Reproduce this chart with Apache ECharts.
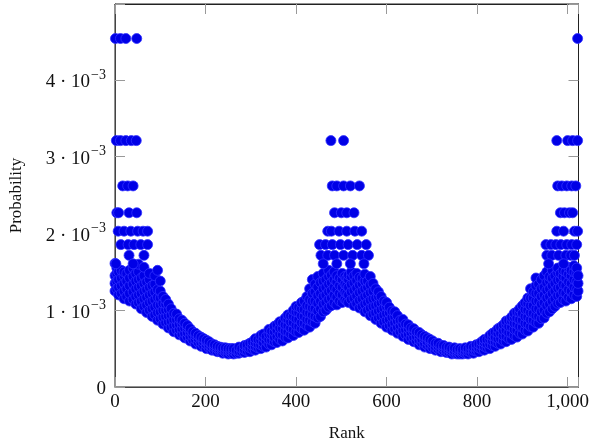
<!DOCTYPE html>
<html>
<head>
<meta charset="utf-8">
<script src="https://cdn.jsdelivr.net/npm/echarts@6/dist/echarts.min.js"></script>
<style>html,body{margin:0;padding:0;background:#fff;}#c{width:592px;height:447px;}</style>
</head>
<body>
<div id="c"></div>
<script>
// probabilities are given in units of 1e-3
const xTicks = [0, 200, 400, 600, 800, 1000];
const yTicks = [0, 1, 2, 3, 4];

// band, first quarter (ranks 0..256)
const q1Ranks = [0,4,8,14,20,26,32,40,46,52,58,64,70,76,82,88,94,100,106,112,118,124,130,136,142,148,154,160,166,172,178,184,190,196,202,208,214,220,226,232,238,244,250,256];
const q1Probs = [[1.25,1.35,1.45,1.61],[1.28,1.38,1.48,1.55],[1.20,1.30,1.40,1.50],[1.22,1.32,1.42,1.52],[1.15,1.25,1.35,1.45,1.50],[1.18,1.28,1.38,1.48],[1.12,1.22,1.32,1.42,1.52],[1.14,1.24,1.34,1.44,1.55],[1.08,1.18,1.28,1.38,1.48],[1.10,1.20,1.30,1.40,1.50,1.60],[1.02,1.12,1.22,1.32,1.42],[1.05,1.15,1.25,1.35,1.45,1.56],[0.97,1.07,1.17,1.27,1.37],[1.00,1.10,1.20,1.30,1.40,1.48],[0.92,1.02,1.12,1.22,1.32],[0.94,1.04,1.14,1.24,1.34,1.45],[0.87,0.97,1.07,1.17,1.27,1.52],[0.89,0.98,1.07,1.16,1.25,1.38],[0.82,0.91,1.00,1.09,1.18],[0.84,0.92,1.00,1.08,1.14],[0.77,0.85,0.93,1.01,1.08],[0.78,0.86,0.94,1.02],[0.72,0.80,0.88,0.96],[0.74,0.81,0.88,0.95],[0.68,0.75,0.82,0.89],[0.69,0.76,0.83,0.87],[0.64,0.70,0.77,0.83],[0.65,0.71,0.77,0.80],[0.60,0.66,0.72,0.76],[0.61,0.67,0.72],[0.56,0.62,0.67,0.70],[0.58,0.63,0.67],[0.53,0.58,0.63,0.65],[0.54,0.59,0.63],[0.50,0.55,0.59,0.61],[0.51,0.55,0.59],[0.48,0.52,0.56],[0.48,0.52,0.55],[0.46,0.50,0.53],[0.46,0.49,0.52],[0.44,0.48,0.51],[0.45,0.48,0.51],[0.43,0.47,0.50],[0.44,0.47,0.50]];

// band, second quarter (ranks 256..512)
const q2Ranks = [262,268,274,280,286,292,298,304,310,316,322,328,334,340,346,352,358,364,370,376,382,388,394,400,406,412,418,424,430,436,442,448,454,460,466,472,478,484,490,496,502,508,512];
const q2Probs = [[0.43,0.47,0.50],[0.44,0.48],[0.44,0.47,0.52],[0.46,0.50],[0.45,0.49,0.54],[0.47,0.52,0.55],[0.46,0.51,0.57],[0.49,0.54,0.59],[0.48,0.53,0.58,0.63],[0.51,0.56,0.62],[0.50,0.55,0.61,0.67],[0.53,0.58,0.64,0.69],[0.52,0.60,0.66],[0.56,0.62,0.69,0.75],[0.55,0.61,0.68,0.73],[0.59,0.65,0.72,0.79],[0.58,0.66,0.74,0.81],[0.62,0.69,0.77,0.85],[0.60,0.68,0.76,0.84],[0.65,0.73,0.81,0.90],[0.64,0.72,0.80,0.88,0.94],[0.69,0.77,0.85,0.93],[0.67,0.75,0.84,0.92,1.00],[0.72,0.80,0.89,0.98,1.05],[0.71,0.79,0.88,0.97,1.04],[0.76,0.84,0.93,1.02,1.10],[0.74,0.83,0.92,1.01,1.12],[0.80,0.88,0.97,1.06,1.18],[0.78,0.87,0.96,1.05,1.14,1.28],[0.85,0.94,1.03,1.12,1.22,1.40],[0.83,0.92,1.02,1.12,1.24,1.34],[0.90,0.99,1.09,1.19,1.30,1.44],[0.92,1.02,1.12,1.22,1.36],[0.98,1.08,1.18,1.28,1.38,1.48],[1.00,1.10,1.20,1.30,1.40],[1.04,1.14,1.24,1.34,1.44,1.52],[1.06,1.16,1.26,1.36,1.46],[1.10,1.20,1.30,1.40,1.50],[1.07,1.17,1.27,1.37,1.45],[1.12,1.22,1.32,1.42],[1.10,1.20,1.30,1.40,1.48],[1.14,1.24,1.34,1.44],[1.12,1.22,1.32,1.42]];

// band, third quarter (ranks 512..768)
const q3Ranks = [516,522,528,534,540,546,552,558,564,570,576,582,588,594,600,606,612,618,624,630,636,642,648,654,660,666,672,678,684,690,696,702,708,714,720,726,732,738,744,750,756,762,768];
const q3Probs = [[1.10,1.20,1.30,1.40,1.46],[1.14,1.24,1.34,1.44,1.50],[1.06,1.16,1.26,1.36,1.45],[1.09,1.19,1.29,1.39,1.48],[1.03,1.13,1.23,1.33,1.43],[1.05,1.15,1.25,1.35,1.42],[0.98,1.08,1.18,1.28,1.38,1.47],[1.00,1.10,1.20,1.30,1.38],[0.93,1.03,1.13,1.23,1.33,1.44],[0.95,1.05,1.15,1.25,1.35],[0.88,0.97,1.06,1.16,1.28],[0.90,0.99,1.08,1.18,1.24],[0.83,0.92,1.01,1.10,1.18],[0.85,0.94,1.03,1.12],[0.78,0.87,0.96,1.05,1.10],[0.80,0.88,0.97,1.04],[0.74,0.82,0.91,0.99],[0.76,0.84,0.92,0.98],[0.70,0.78,0.86,0.93],[0.72,0.80,0.87],[0.66,0.74,0.82,0.88],[0.68,0.75,0.82],[0.62,0.69,0.76,0.81],[0.64,0.71,0.77],[0.59,0.65,0.72,0.76],[0.60,0.66,0.72],[0.55,0.61,0.67,0.71],[0.57,0.62,0.68],[0.52,0.57,0.63,0.66],[0.54,0.59,0.64],[0.50,0.55,0.60,0.62],[0.51,0.56,0.60],[0.48,0.52,0.57],[0.49,0.53,0.57],[0.46,0.50,0.54],[0.47,0.51,0.54],[0.45,0.48,0.52],[0.45,0.49,0.52],[0.43,0.47,0.50],[0.44,0.47,0.51],[0.43,0.46,0.49],[0.43,0.47,0.50],[0.43,0.46,0.49]];

// band, fourth quarter (ranks 768..1024)
const q4Ranks = [774,780,786,792,798,804,810,816,822,828,834,840,846,852,858,864,870,876,882,888,894,900,906,912,918,924,930,936,942,948,954,960,966,972,978,984,990,996,1002,1008,1014,1020,1023];
const q4Probs = [[0.44,0.47,0.51],[0.43,0.47,0.50],[0.45,0.49,0.53],[0.44,0.48,0.52],[0.47,0.51,0.55],[0.46,0.51,0.56],[0.49,0.54,0.59],[0.48,0.53,0.58,0.62],[0.51,0.56,0.62],[0.50,0.56,0.62,0.67],[0.54,0.60,0.66,0.70],[0.53,0.59,0.65,0.72],[0.57,0.63,0.70,0.76],[0.56,0.63,0.70,0.78],[0.60,0.67,0.74,0.81],[0.59,0.66,0.74,0.82,0.86],[0.63,0.71,0.79,0.87],[0.62,0.70,0.78,0.86,0.91],[0.67,0.75,0.83,0.91,0.96],[0.65,0.74,0.82,0.90,0.98],[0.70,0.79,0.88,0.97,1.02],[0.69,0.78,0.87,0.96,1.06],[0.74,0.83,0.92,1.01,1.10],[0.73,0.82,0.91,1.00,1.09,1.16],[0.79,0.88,0.97,1.06,1.16,1.28],[0.78,0.87,0.96,1.06,1.16,1.24],[0.84,0.93,1.02,1.12,1.22,1.32,1.42],[0.83,0.92,1.02,1.12,1.22,1.34],[0.89,0.98,1.08,1.18,1.28,1.40],[0.90,1.00,1.10,1.20,1.30,1.45],[0.96,1.06,1.16,1.26,1.36,1.50],[0.98,1.08,1.18,1.28,1.38,1.44],[1.02,1.12,1.22,1.32,1.42,1.52],[1.05,1.15,1.25,1.35,1.45],[1.09,1.19,1.29,1.39,1.49,1.55],[1.10,1.20,1.30,1.40,1.48],[1.14,1.24,1.34,1.44,1.52],[1.12,1.22,1.32,1.42,1.50],[1.17,1.27,1.37,1.47,1.56],[1.15,1.25,1.35,1.45,1.52],[1.20,1.30,1.40,1.50,1.58],[1.18,1.28,1.38,1.48,1.55],[1.25,1.35,1.45]];

// discrete high levels near the peaks
const levels = [4.54, 3.21, 2.62, 2.27, 2.03, 1.855, 1.715, 1.605];
const leftLevelRanks = [[1,12,24,48],[3,12,24,36,47],[17,28,40],[4,8,31,48],[7,20,35,50,62,72],[13,29,42,57,72],[31,64],[2,40]];
const midLevelRanks = [[],[477,505],[480,490,505,520,540],[485,500,512,528],[470,478,495,512,530,545],[452,465,480,498,515,535,555],[455,470,485,505,525,545,560],[460,490,520,550]];
const rightLevelRanks = [[1022],[976,1000,1011,1022],[978,987,998,1009,1018],[984,993,1004,1011],[976,991,1015,1022],[952,963,974,985,998,1009,1020],[954,965,980,996,1007,1015],[958,991]];

const data = [];
function addBand(ranks, probs){ ranks.forEach((r,i)=>probs[i].forEach(p=>data.push([r, p*1e-3]))); }
addBand(q1Ranks,q1Probs); addBand(q2Ranks,q2Probs); addBand(q3Ranks,q3Probs); addBand(q4Ranks,q4Probs);
[leftLevelRanks, midLevelRanks, rightLevelRanks].forEach(set=>set.forEach((rs,k)=>rs.forEach(r=>data.push([r, levels[k]*1e-3]))));

const FONT = '"Liberation Serif", "DejaVu Serif", serif';
const chart = echarts.init(document.getElementById('c'), null, {renderer:'canvas'});
const tickStyle = {show:true, inside:true, length:10, lineStyle:{color:'#999', width:1}};
chart.setOption({
  animation:false,
  backgroundColor:'#fff',
  grid:{left:114, right:12, top:4, bottom:56, show:true, borderColor:'#222', borderWidth:1, backgroundColor:'transparent'},
  xAxis:[{
    type:'value', min:0, max:1024, interval:200,
    axisLine:{show:true, onZero:false, lineStyle:{color:'#444'}},
    axisTick:tickStyle, splitLine:{show:false},
    axisLabel:{color:'#111', fontFamily:FONT, fontSize:19, margin:6,
      formatter:v=> xTicks.includes(v) ? (v===1000?'1,000':String(v)) : ''},
    name:'Rank', nameLocation:'middle', nameGap:38,
    nameTextStyle:{color:'#111', fontFamily:FONT, fontSize:17}
  },{
    type:'value', min:0, max:1024, interval:200, position:'top',
    axisLine:{show:true, onZero:false, lineStyle:{color:'#222'}},
    axisTick:tickStyle, axisLabel:{show:false}, splitLine:{show:false}
  }],
  yAxis:[{
    type:'value', min:0, max:0.00499, interval:0.001,
    axisLine:{show:true, onZero:false, lineStyle:{color:'#444'}},
    axisTick:tickStyle, splitLine:{show:false},
    axisLabel:{margin:9, fontFamily:FONT,
      formatter:v=>{ const k=Math.round(v*1000); if(!yTicks.includes(k)) return ''; return k===0 ? '{b|0}' : '{b|'+k+' · 10}{s|−3}'; },
      rich:{ b:{fontFamily:FONT, fontSize:19, color:'#111', lineHeight:24, verticalAlign:'bottom'},
             s:{fontFamily:FONT, fontSize:14, color:'#111', lineHeight:24, verticalAlign:'top', padding:[0,0,0,1]} }
    },
    name:'Probability', nameLocation:'middle', nameGap:90, nameRotate:90,
    nameTextStyle:{color:'#111', fontFamily:FONT, fontSize:17}
  },{
    type:'value', min:0, max:0.00499, interval:0.001, position:'right',
    axisLine:{show:true, onZero:false, lineStyle:{color:'#222'}},
    axisTick:tickStyle, axisLabel:{show:false}, splitLine:{show:false}
  }],
  series:[{
    type:'scatter', xAxisIndex:0, yAxisIndex:0, data:data, symbol:'circle', symbolSize:10,
    itemStyle:{color:'#0000e6', borderColor:'#3030ff', borderWidth:0.8, opacity:1},
    clip:true
  }]
});
</script>
</body>
</html>
